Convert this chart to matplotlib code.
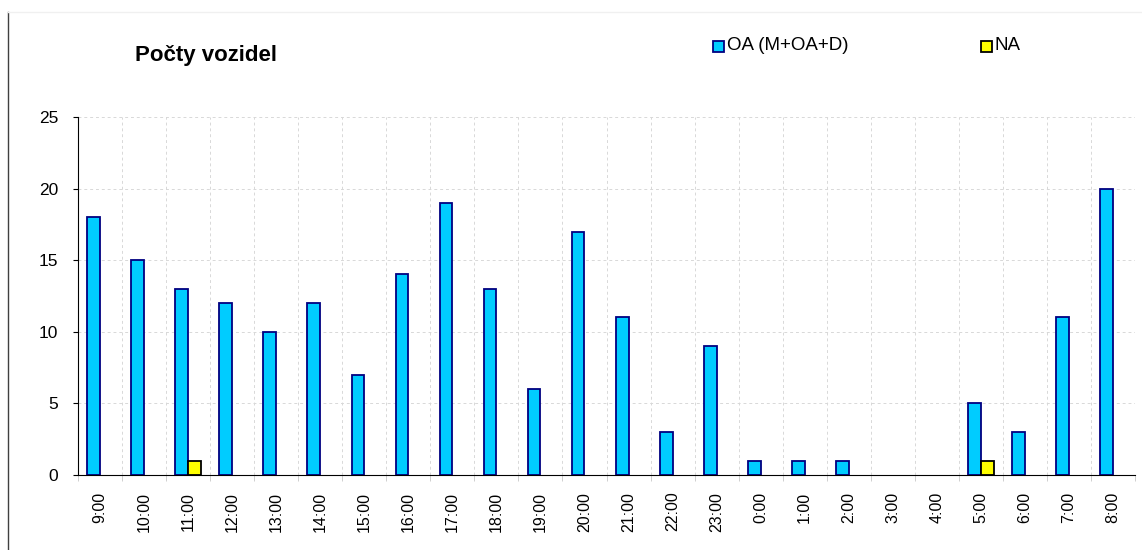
import numpy as np
import matplotlib.pyplot as plt
from matplotlib.lines import Line2D

hours = ["9:00", "10:00", "11:00", "12:00", "13:00", "14:00", "15:00", "16:00",
         "17:00", "18:00", "19:00", "20:00", "21:00", "22:00", "23:00", "0:00",
         "1:00", "2:00", "3:00", "4:00", "5:00", "6:00", "7:00", "8:00"]
oa = [18, 15, 13, 12, 10, 12, 7, 14, 19, 13, 6, 17, 11, 3, 9, 1, 1, 1, 0, 0, 5, 3, 11, 20]
na = [0, 0, 1, 0, 0, 0, 0, 0, 0, 0, 0, 0, 0, 0, 0, 0, 0, 0, 0, 0, 1, 0, 0, 0]

plt.rcParams['font.family'] = ['Liberation Sans', 'DejaVu Sans']

fig = plt.figure(figsize=(11.42, 5.5), dpi=100)
ax = fig.add_axes([0.0683, 0.1364, 0.9256, 0.651])

x = np.arange(len(hours))
w = 0.29
# skip zero values so empty slots don't show a flat edge
oa_x = [i for i, v in enumerate(oa) if v > 0]
ax.bar(x[oa_x] - w / 2, [oa[i] for i in oa_x], w, color="#00CCFF",
       edgecolor="#000080", linewidth=1.3)
na_x = [i for i, v in enumerate(na) if v > 0]
ax.bar(x[na_x] + w / 2, [na[i] for i in na_x], w, color="#FFFF00",
       edgecolor="black", linewidth=1.3)

ax.set_xlim(-0.5, len(hours) - 0.5)
ax.set_ylim(0, 25)
ax.set_yticks(range(0, 26, 5))
ax.set_xticks(x)
ax.set_xticklabels(hours, rotation=90, fontsize=11.5)
ax.set_xticks(np.arange(len(hours) + 1) - 0.5, minor=True)
ax.tick_params(axis='x', which='major', length=0, pad=12)
ax.tick_params(axis='x', which='minor', length=4, color="#c8c8c8")
ax.tick_params(axis='y', labelsize=12.5, length=3.6, pad=10.5)

ax.grid(True, which='minor', axis='x', color="#d8d8d8", linestyle=(0, (3, 3)), linewidth=0.7)
ax.grid(True, which='major', axis='y', color="#d8d8d8", linestyle=(0, (3, 3)), linewidth=0.7)
ax.set_axisbelow(True)
for s in ["top", "right"]:
    ax.spines[s].set_visible(False)
ax.spines["left"].set_color("black")
ax.spines["bottom"].set_color("black")

fig.text(135 / 1142, 1 - 55 / 550, "Počty vozidel", fontsize=16, fontweight="bold", va="center")

# legend drawn as squares + text
fig.patches.append(plt.Rectangle((713 / 1142, 1 - 52 / 550), 11 / 1142, 11 / 550,
                                 transform=fig.transFigure, facecolor="#00CCFF",
                                 edgecolor="#000080", linewidth=1.3))
fig.text(727 / 1142, 1 - 46 / 550, "OA (M+OA+D)", fontsize=13.5, va="center")
fig.patches.append(plt.Rectangle((981 / 1142, 1 - 52 / 550), 11 / 1142, 11 / 550,
                                 transform=fig.transFigure, facecolor="#FFFF00",
                                 edgecolor="black", linewidth=1.3))
fig.text(995 / 1142, 1 - 46 / 550, "NA", fontsize=13.5, va="center")

# outer chart frame bits
fig.add_artist(Line2D([8 / 1142, 8 / 1142], [0, 1 - 12 / 550], color="#404040", linewidth=1))
fig.add_artist(Line2D([8 / 1142, 1], [1 - 12 / 550, 1 - 12 / 550], color="#f0f0f0", linewidth=1))

fig.savefig("out.png", dpi=100)
